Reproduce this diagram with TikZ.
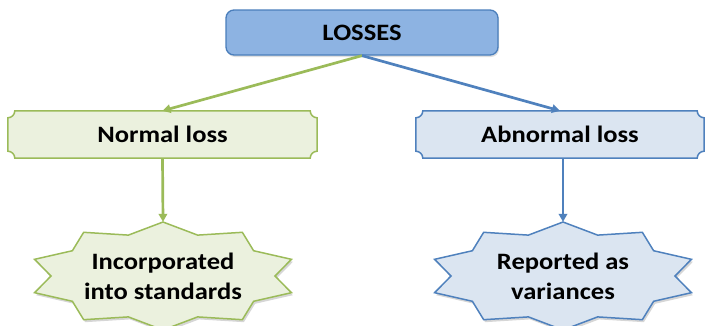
\documentclass[tikz,border=0pt]{standalone}
\usepackage{fontspec}
\setmainfont{Carlito}[FakeStretch=1.13]
\usetikzlibrary{arrows.meta,backgrounds,calc,shadows}

\definecolor{grnline}{HTML}{9BBB59}
\definecolor{grnfill}{HTML}{EBF1DE}
\definecolor{bluline}{HTML}{4F81BD}
\definecolor{blufill}{HTML}{DBE5F1}
\definecolor{topfill}{HTML}{8DB3E2}
\definecolor{topline}{HTML}{4A7EBB}

% plaque outline (rectangle with concave rounded corners) around a node
\newcommand\plaquedraw[3]{%
  \path[#2,shift={#3}] let \p1=(#1.south west), \p2=(#1.north east) in
    (\x1+7pt,\y2) -- (\x2-7pt,\y2) arc[start angle=180,end angle=270,radius=7pt]
    -- (\x2,\y1+7pt) arc[start angle=90,end angle=180,radius=7pt]
    -- (\x1+7pt,\y1) arc[start angle=0,end angle=90,radius=7pt]
    -- (\x1,\y2-7pt) arc[start angle=270,end angle=360,radius=7pt] -- cycle;}

% ten-point elliptical star around a node
\newcommand\sealdraw[3]{%
  \path[#2,shift={#3}] ([shift={(#1.center)}]90:135pt and 54pt)
    \foreach \i [evaluate=\i as \rx using {135-23*mod(\i,2)},
                 evaluate=\i as \ry using {54-11*mod(\i,2)}] in {1,...,19}
      { -- ([shift={(#1.center)}]{90+18*\i}:\rx pt and \ry pt) } -- cycle;}

\tikzset{
  label/.style={font=\fontsize{23.5}{30}\selectfont\bfseries, text=black,
                inner sep=0pt, align=center},
  topbox/.style={label, minimum width=272pt, minimum height=45pt,
                 rounded corners=8pt, fill=topfill, draw=topline, line width=1.3pt,
                 drop shadow={shadow xshift=1pt, shadow yshift=-2pt, opacity=.25}},
  shade/.style={fill=black, opacity=.16},
  grnshape/.style={fill=grnfill, draw=grnline, line width=1.5pt},
  blushape/.style={fill=blufill, draw=bluline, line width=1.5pt},
  grnarrow/.style={draw=grnline, line width=2.7pt, -{Triangle[length=8pt,width=8.5pt]}},
  bluarrow/.style={draw=bluline, line width=2.7pt, -{Triangle[length=8pt,width=8.5pt]}},
}

\begin{document}
\begin{tikzpicture}[x=1pt,y=1pt]
  \useasboundingbox (0,0) rectangle (708,325);

  \node[topbox] (losses) at (362,292.5) {LOSSES};

  \node[label, minimum width=309pt, minimum height=47pt] (normal) at (162.5,190.5) {Normal loss};
  \node[label, minimum width=288pt, minimum height=47pt] (abnormal) at (560,190.5) {Abnormal loss};

  \node[label, minimum width=270pt, minimum height=108pt] (incorp) at (163,49) {Incorporated\\into standards};
  \node[label, minimum width=270pt, minimum height=108pt] (report) at (563,49) {Reported as\\variances};

  \begin{scope}[on background layer]
    \plaquedraw{normal}{shade}{(1.5pt,-2.5pt)}
    \plaquedraw{normal}{grnshape}{(0,0)}
    \plaquedraw{abnormal}{shade}{(1.5pt,-2.5pt)}
    \plaquedraw{abnormal}{blushape}{(0,0)}
    \sealdraw{incorp}{shade}{(1.5pt,-2.5pt)}
    \sealdraw{incorp}{grnshape}{(0,0)}
    \sealdraw{report}{shade}{(1.5pt,-2.5pt)}
    \sealdraw{report}{blushape}{(0,0)}
  \end{scope}

  \draw[grnarrow] (losses.south) -- (normal.north);
  \draw[bluarrow] (losses.south) -- (abnormal.north);
  \draw[grnarrow] (normal.south) -- (incorp.north);
  \draw[bluarrow] (abnormal.south -| report.north) -- (report.north);
\end{tikzpicture}
\end{document}
